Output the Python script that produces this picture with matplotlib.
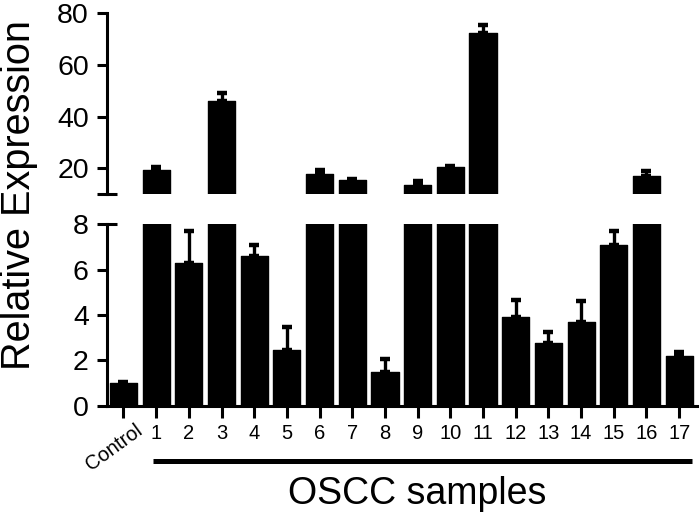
import numpy as np
import matplotlib.pyplot as plt
from matplotlib import ticker, transforms

plt.rcParams['font.family'] = ['Liberation Sans', 'DejaVu Sans']

# Values: mean expression and upward error
groups = ['Control'] + [str(i) for i in range(1, 18)]
expression = [1.0, 19.3, 6.3, 46.0, 6.6, 2.45, 18.0, 15.7, 1.5, 13.5,
              20.7, 72.5, 3.9, 2.75, 3.7, 7.1, 17.0, 2.2]
error = [0.05, 1.3, 1.4, 3.0, 0.5, 1.0, 1.4, 0.3, 0.55, 1.5,
         0.3, 3.0, 0.75, 0.5, 0.9, 0.6, 2.0, 0.15]

x = np.arange(len(groups))
lower = np.zeros(len(x))

fig = plt.figure(figsize=(7, 5.2), dpi=100)
ax_top = fig.add_axes([0.153, 0.6263, 0.842, 0.3481])
ax_bot = fig.add_axes([0.153, 0.2198, 0.842, 0.3488])

for ax in (ax_top, ax_bot):
    ax.bar(x, expression, width=0.83, color='black', edgecolor='black',
           linewidth=1, joinstyle='round', zorder=2)
    ax.errorbar(x, expression, yerr=[lower, error], fmt='none', ecolor='black',
                elinewidth=2.4, capsize=3.8, capthick=3.2, zorder=1)
    ax.set_xlim(-0.5, 17.53)
    ax.spines['top'].set_visible(False)
    ax.spines['right'].set_visible(False)
    ax.spines['left'].set_linewidth(2.2)
    ax.spines['bottom'].set_linewidth(2.2)
    ax.tick_params(axis='y', which='major', direction='out', length=7.2,
                   width=2.2, labelsize=20.5, pad=6)
    ax.tick_params(axis='y', which='minor', direction='inout', length=14.4,
                   width=2.2, labelsize=20.5, pad=6)

# upper segment of the broken axis
ax_top.set_ylim(10, 80)
ax_top.set_yticks([20, 40, 60, 80])
ax_top.set_yticks([10], minor=True)
ax_top.yaxis.set_minor_formatter(ticker.NullFormatter())
ax_top.spines['bottom'].set_visible(False)
ax_top.set_xticks([])

# lower segment
ax_bot.set_ylim(0, 8)
ax_bot.set_yticks([0, 2, 4, 6])
ax_bot.set_yticks([8], minor=True)
ax_bot.yaxis.set_minor_formatter(ticker.FormatStrFormatter('%d'))
ax_bot.set_xticks(x)
ax_bot.set_xticklabels([''] + groups[1:])
ax_bot.tick_params(axis='x', direction='out', length=8.6, width=2.2,
                   labelsize=14.5, pad=4.5)

ax_bot.annotate(groups[0], xy=(x[0], 0), xycoords=('data', 'axes fraction'),
                xytext=(8, -11), textcoords='offset points', fontsize=14.5,
                rotation=36, rotation_mode='anchor', ha='right', va='top')

# bracket under the tumour samples
blend = transforms.blended_transform_factory(ax_bot.transData, fig.transFigure)
ax_bot.plot([x[1] - 0.1, x[-1] + 0.4], [0.1135, 0.1135], color='black',
            lw=3.6, solid_capstyle='butt', transform=blend, clip_on=False)
ax_bot.text(x[1:].mean(), 0.05, 'OSCC samples', transform=blend,
            ha='center', va='center', fontsize=27)

fig.text(0.027, 0.625, 'Relative Expression', rotation=90,
         ha='center', va='center', fontsize=28.5)

fig.savefig('out.png', dpi=100)
